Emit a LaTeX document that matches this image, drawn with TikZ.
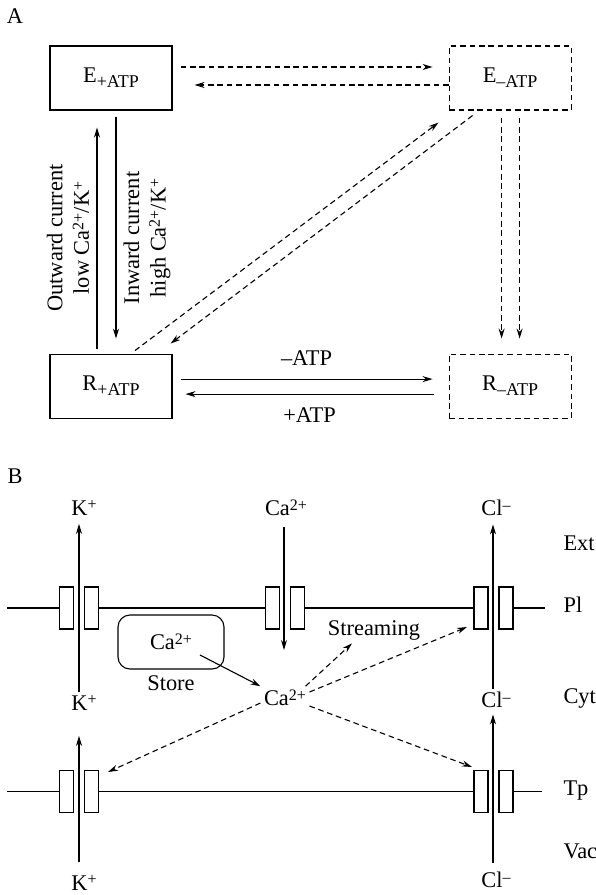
\documentclass[tikz,border=0pt]{standalone}
\usepackage{fontspec}
\setmainfont{Liberation Serif}
\usetikzlibrary{arrows.meta,positioning}

\newcommand{\subtx}[1]{\raisebox{-2.5pt}{\fontsize{9}{9}\selectfont #1}}
\newcommand{\suptx}[1]{\raisebox{2.8pt}{\fontsize{8}{8}\selectfont #1}}

\tikzset{
  every node/.style={font=\fontsize{11.2}{13.2}\selectfont},
  dashes/.style={dash pattern=on 2.8pt off 1.9pt},
  statebox/.style={draw, minimum width=61pt, minimum height=32pt, inner sep=0pt},
  dashbox/.style={statebox, dashes},
  arr/.style={-{Stealth[length=5pt,width=3pt]}},
  darr/.style={arr, dashes},
  lbl/.style={inner sep=1.5pt},
}

\begin{document}
\begin{tikzpicture}[x=0.5pt,y=-0.5pt,line width=0.55pt]
  \useasboundingbox (0,0) rectangle (595,895);

  % A
  \node (la) at (15,16) {A};
  \node[statebox] (Ep) at (111,78) {E\subtx{+ATP}};
  \node[dashbox, right=138pt of Ep] (Em) {E\subtx{–ATP}};
  \node[statebox, below=121.5pt of Ep] (Rp) {R\subtx{+ATP}};
  \node[dashbox, right=138pt of Rp] (Rm) {R\subtx{–ATP}};

  \draw[darr] ([xshift=4pt,yshift=5.5pt]Ep.east) -- ([xshift=-8pt,yshift=5.5pt]Em.west);
  \draw[darr] ([yshift=-3.5pt]Em.west) -- ([xshift=11pt,yshift=-3.5pt]Ep.east);

  \draw[arr] ([xshift=-7pt,yshift=2.5pt]Rp.north) -- ([xshift=-7pt,yshift=-8.5pt]Ep.south);
  \draw[arr] ([xshift=2.5pt,yshift=-3pt]Ep.south) -- ([xshift=2.5pt,yshift=7.5pt]Rp.north);
  \node[rotate=90, align=center] (outlbl) at (68,238) {Outward current\\low Ca\suptx{2+}/K\suptx{+}};
  \node[rotate=90, align=center] (inlbl) at (147,238) {Inward current\\high Ca\suptx{2+}/K\suptx{+}};

  \draw[darr] ([xshift=12pt,yshift=1.5pt]Rp.north) -- ([xshift=-5pt,yshift=-6pt]Em.south west);
  \draw[darr] ([xshift=12pt,yshift=-2.5pt]Em.south west) -- ([xshift=-1pt,yshift=5pt]Rp.north east);

  \draw[darr] ([xshift=-4.25pt,yshift=-3.5pt]Em.south) -- ([xshift=-4.25pt,yshift=7.5pt]Rm.north);
  \draw[darr] ([xshift=4.75pt,yshift=-3.5pt]Em.south) -- ([xshift=4.75pt,yshift=7.5pt]Rm.north);

  \draw[arr] ([xshift=4pt,yshift=3.5pt]Rp.east) -- node[above=3pt] (mATP) {–ATP} ([xshift=-8pt,yshift=3.5pt]Rm.west);
  \draw[arr] ([xshift=-7.5pt,yshift=-4pt]Rm.west) -- node[below=3pt] (pATP) {+ATP} ([xshift=6.5pt,yshift=-4pt]Rp.east);

  % B
  \node (lb) at (15,476) {B};

  % membranes and channels
  \foreach \xa/\xb in {7/59.5, 98.5/265.5, 304.5/474, 513/545}
    \draw (\xa,608) -- (\xb,608);
  \foreach \xa/\xb in {7/59.5, 98.5/474, 513/542}
    \draw (\xa,791.5) -- (\xb,791.5);
  \foreach \cx/\cy in {79/608, 285/608, 493.5/608, 79/791.5, 493.5/791.5} {
    \draw (\cx-19.5,\cy-21) rectangle (\cx-5.5,\cy+21);
    \draw (\cx+5.5,\cy-21) rectangle (\cx+19.5,\cy+21);
  }

  \foreach \name/\txt/\yy in {ext/Ext/550, pl/Pl/612, cyt/Cyt/703, tp/Tp/795, vac/Vac/858}
    \node[lbl, anchor=base west] (\name) at (560,\yy) {\txt};

  % ions
  \node[lbl] (kPlout) at (84,508) {K\suptx{+}};
  \node[lbl] (kPlin) at (84,703) {K\suptx{+}};
  \node[lbl] (kTpin) at (84,883) {K\suptx{+}};
  \node[lbl] (caout) at (286,508) {Ca\suptx{2+}};
  \node[lbl] (clPlout) at (496,508) {Cl\suptx{–}};
  \node[lbl] (clPlin) at (496,700) {Cl\suptx{–}};
  \node[lbl] (clTpin) at (496,880) {Cl\suptx{–}};
  \coordinate (caend) at (284,650);

  \draw[arr, shorten >=2.5pt] ([xshift=-2.5pt]kPlin.north) -- ([xshift=-2.5pt]kPlout.south);
  \draw[arr, shorten <=5pt, shorten >=11pt] ([xshift=-2.5pt]kTpin.north) -- ([xshift=-2.5pt]kPlin.south);
  \draw[arr, shorten <=3.5pt] ([xshift=-1pt]caout.south) -- (caend);
  \draw[arr, shorten >=2.5pt] ([xshift=-1.5pt]clPlin.north) -- ([xshift=-1.5pt]clPlout.south);
  \draw[arr, shorten <=3pt, shorten >=1.5pt] ([xshift=-1.5pt]clTpin.north) -- ([xshift=-1.5pt]clPlin.south);

  % store and streaming
  \node[draw, lbl, rounded corners=6pt, minimum width=53pt, minimum height=27pt] (store) at (171,642) {Ca\suptx{2+}};
  \node[lbl, below=1.5pt of store] (storelbl) {Store};
  \node[lbl] (cacyt) at (285,698) {Ca\suptx{2+}};
  \node[lbl] (stream) at (374,630) {Streaming};

  \coordinate (kTpgate) at (108,772);
  \coordinate (clPlgate) at (467,627);
  \coordinate (clTpgate) at (472,767);

  \draw[arr] ([shift={(14.5pt,-6.5pt)}]store.center) -- (cacyt.north west);
  \draw[darr] ([yshift=-2.5pt]cacyt.west) -- (kTpgate);
  \draw[darr] ([xshift=-2pt]cacyt.north east) -- ([xshift=-11pt]stream.south);
  \draw[darr] ([yshift=3pt]cacyt.east) -- (clPlgate);
  \draw[darr] ([yshift=-4pt]cacyt.east) -- (clTpgate);
\end{tikzpicture}
\end{document}
